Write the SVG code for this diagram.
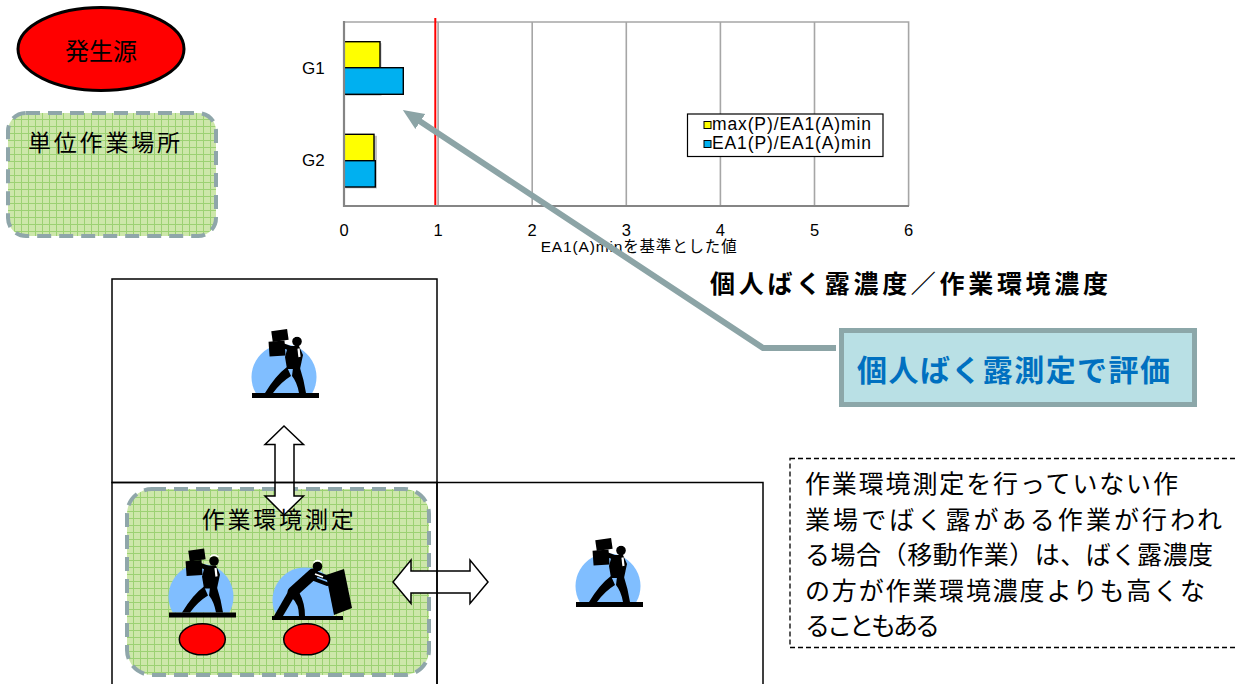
<svg xmlns="http://www.w3.org/2000/svg" width="1235" height="684" viewBox="0 0 1235 684">
  <style>
    .jp { font-family: "Noto Sans CJK JP", "Liberation Sans", sans-serif; fill: #000; }
    .lat { font-family: "Liberation Sans", "Noto Sans CJK JP", sans-serif; fill: #000; }
    .grid { stroke: #A6A6A6; stroke-width: 1.6; fill: none; }
    .axis { stroke: #858585; stroke-width: 2.2; fill: none; }
    .bar { stroke: #000; stroke-width: 1.4; }
    .shadow { fill: #8F8F8F; opacity: 0.55; }
    .zone { fill: url(#mesh); stroke: #8FA6AA; stroke-width: 4; stroke-dasharray: 14 8; }
    .room { fill: none; stroke: #000; stroke-width: 1.5; }
    .block { fill: #fff; stroke: #000; stroke-width: 1.5; stroke-linejoin: miter; }
    .halo { fill: #80BEFF; }
    .ink { fill: #000; }
    .limb { stroke: #000; fill: none; stroke-linecap: round; }
    .src { fill: #FF0000; stroke: #000; }
  </style>
  <defs>
    <pattern id="mesh" width="7" height="7" patternUnits="userSpaceOnUse">
      <rect width="7" height="7" fill="#CDE7AA"/>
      <path d="M0 0.5H7M0.5 0V7" stroke="#9CD173" stroke-width="1"/>
    </pattern>
    <marker id="callout-head" markerUnits="userSpaceOnUse" markerWidth="24" markerHeight="22" viewBox="0 -11 24 22" refX="1" refY="0" orient="auto">
      <path d="M0 -9L21 0L0 9Z" fill="#8CA4A6"/>
    </marker>
    <!-- worker carrying boxes; origin = halo centre, platform top at y=16 -->
    <g id="worker-carry">
      <path class="halo" d="M-28.3 16A32.5 32.5 0 1 1 28.3 16Z"/>
      <rect class="ink" x="-32" y="16" width="67" height="5"/>
      <rect class="ink" x="-12" y="-47" width="16" height="11" transform="rotate(-8 -4 -41)"/>
      <rect class="ink" x="-15" y="-36" width="16" height="15" transform="rotate(-4 -6 -29)"/>
      <path class="ink" d="M4 -31L15 -31L19 -22L16 -8L3 -8L1 -20Z"/>
      <path class="ink" d="M3 -10Q-8 -2 -19 16L-11 16Q-3 5 7 -1Z"/>
      <path class="ink" d="M9 -9L16 -9Q20 3 22 16L15 16Q13 5 8 -1Z"/>
      <path class="limb" stroke-width="5" d="M8 -28L0 -31"/>
      <circle class="ink" cx="13" cy="-35.5" r="4.8"/>
      <path d="M9 -39.5Q13 -43.5 17.5 -39.5" stroke="#fff" stroke-width="1.2" fill="none"/>
      <path d="M14.5 -28.5L15.5 -20" stroke="#fff" stroke-width="2.2" fill="none"/>
    </g>
    <!-- worker pushing a crate; same origin convention -->
    <g id="worker-push">
      <path class="halo" d="M-28.3 16A32.5 32.5 0 1 1 28.3 16Z"/>
      <path class="ink" d="M21 -25L39 -31L47 8L29 15Z"/>
      <rect class="ink" x="-33" y="16" width="71" height="4"/>
      <path class="limb" stroke-width="11" d="M8 -26L-12 -8"/>
      <path class="ink" d="M-16 -10L-9 -6L-22 16L-31 16Z"/>
      <path class="ink" d="M-13 -6L-6 -8Q0 3 0 16L-6 16Q-6 4 -13 -2Z"/>
      <path class="limb" stroke-width="5" d="M9 -27L23 -22"/>
      <path class="limb" stroke-width="4" d="M6 -22L22 -16"/>
      <circle class="ink" cx="12.5" cy="-33.5" r="4.8"/>
      <path d="M8.5 -37.5Q12.5 -41.5 17 -37.5" stroke="#fff" stroke-width="1.2" fill="none"/>
      <path d="M10 -26L18 -23" stroke="#fff" stroke-width="1.8" fill="none"/>
    </g>
  </defs>

  <rect width="1235" height="684" fill="#fff"/>

  <!-- legend: emission source -->
  <g id="legend-source">
    <ellipse class="src" cx="101" cy="49" rx="83" ry="41.5" stroke-width="3"/>
    <text class="jp" x="101" y="60" font-size="24" text-anchor="middle">発生源</text>
  </g>

  <!-- legend: unit work area -->
  <g id="legend-unit-area">
    <rect class="zone" x="8" y="113" width="208" height="123" rx="18"/>
    <text class="jp" x="28" y="150.5" font-size="23" textLength="152">単位作業場所</text>
  </g>

  <!-- bar chart -->
  <g id="chart">
    <path class="grid" d="M438.1 22V206M532.2 22V206M626.3 22V206M720.4 22V206M814.5 22V206M344 22H908.6V206"/>
    <path d="M435.3 18V206" stroke="#FF0000" stroke-width="2"/>
    <rect class="shadow" x="345.5" y="43.2" width="36" height="52.5"/>
    <rect class="shadow" x="345.5" y="135.8" width="31.5" height="52.6"/>
    <rect class="bar" x="344" y="41.7" width="36" height="26" fill="#FFFF00"/>
    <rect class="bar" x="344" y="67.7" width="59.3" height="26.6" fill="#00B0F0"/>
    <rect class="bar" x="344" y="134.3" width="30" height="26.4" fill="#FFFF00"/>
    <rect class="bar" x="344" y="160.7" width="31.3" height="26.3" fill="#00B0F0"/>
    <path class="axis" d="M344 21V206H909"/>
    <text class="lat" x="302" y="74" font-size="17">G1</text>
    <text class="lat" x="302" y="166" font-size="17">G2</text>
    <g class="lat" font-size="16.5" text-anchor="middle">
      <text x="344" y="235.5">0</text>
      <text x="438.1" y="235.5">1</text>
      <text x="532.2" y="235.5">2</text>
      <text x="626.3" y="235.5">3</text>
      <text x="720.4" y="235.5">4</text>
      <text x="814.5" y="235.5">5</text>
      <text x="908.6" y="235.5">6</text>
    </g>
    <text class="lat" x="540.7" y="251.5" font-size="15.5" textLength="196">EA1(A)minを基準とした値</text>
    <g id="chart-legend">
      <rect x="687.5" y="114" width="195.5" height="42.5" fill="#fff" stroke="#000" stroke-width="1.2"/>
      <rect x="704" y="121.5" width="7" height="7" fill="#FFFF00" stroke="#000" stroke-width="1"/>
      <rect x="704" y="140.5" width="7" height="7" fill="#00B0F0" stroke="#000" stroke-width="1"/>
      <text class="lat" x="712" y="130" font-size="17.5" textLength="159">max(P)/EA1(A)min</text>
      <text class="lat" x="712" y="149" font-size="17.5" textLength="159">EA1(P)/EA1(A)min</text>
    </g>
  </g>

  <!-- chart caption -->
  <g id="ratio-label">
    <text class="jp" x="710" y="293" font-size="25" font-weight="bold" textLength="398">個人ばく露濃度／作業環境濃度</text>
  </g>

  <!-- personal exposure callout -->
  <g id="personal-eval">
    <rect x="841.5" y="330.5" width="353" height="74" fill="#B9E0E5" stroke="#8CA7A9" stroke-width="5"/>
    <text class="jp" x="857" y="381" font-size="30" font-weight="bold" style="fill:#0070C0" textLength="313">個人ばく露測定で評価</text>
  </g>

  <!-- measured work area (lower left room) -->
  <g id="measured-area">
    <rect class="zone" x="127" y="489" width="302" height="186" rx="25"/>
  </g>

  <!-- connectors -->
  <g id="connectors">
    <path d="M836 348H763L419.5 121" fill="none" stroke="#8CA4A6" stroke-width="6" stroke-linejoin="miter" marker-end="url(#callout-head)"/>
    <polygon class="block" points="284,426 303.5,444.5 294,444.5 294,496 303.5,496 284,515 265,496 275,496 275,444.5 265,444.5"/>
    <polygon class="block" points="393,582 411,560 411,571 470,571 470,560 488,582 470,603.5 470,593 411,593 411,603.5"/>
  </g>

  <!-- rooms -->
  <g id="room-upper">
    <rect class="room" x="112" y="279" width="325" height="203.5"/>
    <use href="#worker-carry" x="284" y="377"/>
  </g>
  <g id="room-lower-left">
    <rect class="room" x="112" y="482.5" width="325" height="220"/>
    <text class="jp" x="201.7" y="528" font-size="23" textLength="152">作業環境測定</text>
    <use href="#worker-carry" x="201" y="596.5"/>
    <use href="#worker-push" x="305" y="600"/>
    <ellipse class="src" cx="202.3" cy="639.3" rx="23" ry="15.5" stroke-width="1.5"/>
    <ellipse class="src" cx="306.7" cy="639.3" rx="23" ry="15.5" stroke-width="1.5"/>
  </g>
  <g id="room-lower-right">
    <rect class="room" x="437" y="482.5" width="326" height="220"/>
    <use href="#worker-carry" x="608" y="586"/>
  </g>

  <!-- explanatory note -->
  <g id="note">
    <rect x="790" y="458.5" width="460" height="189" fill="none" stroke="#000" stroke-width="1.3" stroke-dasharray="5 3"/>
    <g class="jp" font-size="25">
      <text x="805" y="493" textLength="373">作業環境測定を行っていない作</text>
      <text x="805" y="528.5" textLength="417">業場でばく露がある作業が行われ</text>
      <text x="805" y="564" textLength="408">る場合（移動作業）は、ばく露濃度</text>
      <text x="805" y="599.5" textLength="400">の方が作業環境濃度よりも高くな</text>
      <text x="805" y="635" textLength="135">ることもある</text>
    </g>
  </g>
</svg>
